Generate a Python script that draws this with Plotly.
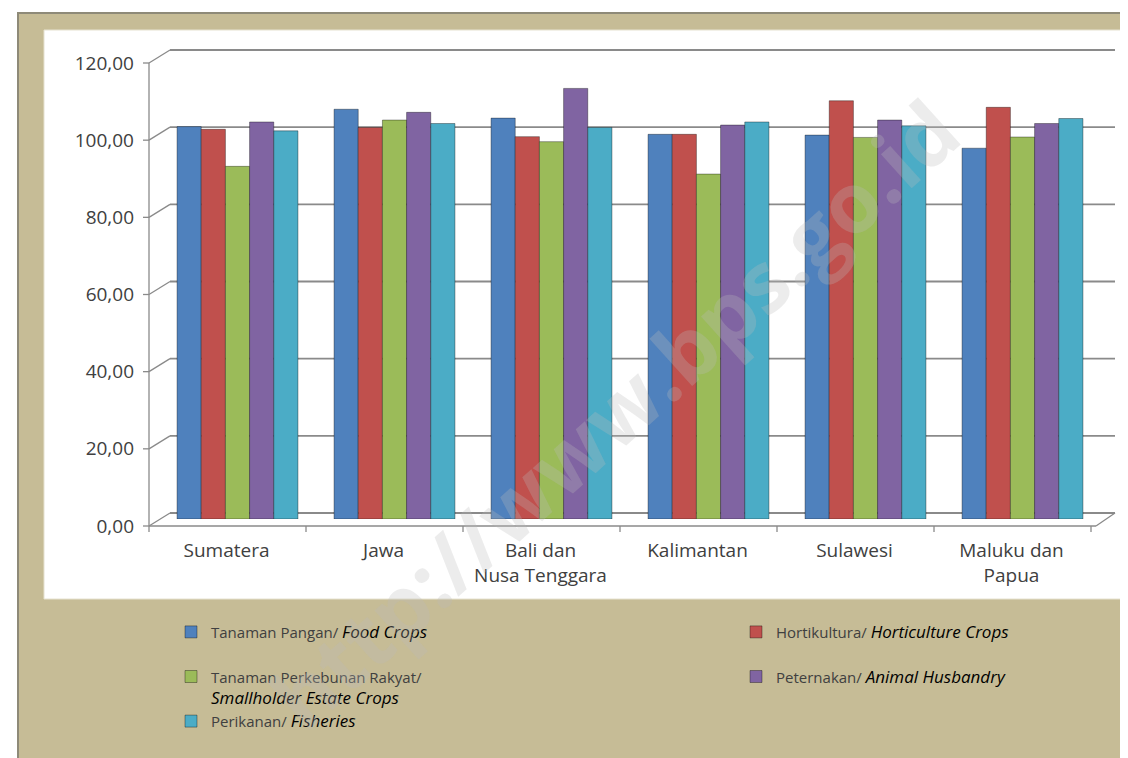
import plotly.graph_objects as go

# ---------------- data ----------------
categories = ["Sumatera", "Jawa", "Bali dan<br>Nusa Tenggara", "Kalimantan", "Sulawesi", "Maluku dan<br>Papua"]
food_crops = [101.7, 106.2, 103.9, 99.7, 99.5, 96.1]
horticulture = [101.0, 101.5, 99.1, 99.7, 108.4, 106.7]
estate_crops = [91.4, 103.4, 97.8, 89.4, 98.9, 99.0]
animal_husbandry = [102.9, 105.4, 111.6, 102.1, 103.4, 102.5]
fisheries = [100.6, 102.5, 101.5, 102.9, 101.9, 103.8]
y_ticks = [0, 20, 40, 60, 80, 100, 120]

names_id = ["Tanaman Pangan/ ", "Hortikultura/ ", "Tanaman Perkebunan Rakyat/", "Peternakan/ ", "Perikanan/ "]
names_en = ["Food Crops", "Horticulture Crops", "Smallholder Estate Crops", "Animal Husbandry", "Fisheries"]
colors = ["#4F81BD", "#C0504D", "#9BBB59", "#8064A2", "#4BACC6"]
series = [food_crops, horticulture, estate_crops, animal_husbandry, fisheries]

# ---------------- geometry helpers (decoration only) ----------------
W, H = 1128, 758
L, R, B, T = 151, 1093, 511, 48
PW, PH = R - L, B - T


def fx(px):
    return (px - L) / PW


def fy(py):
    return (B - py) / PH


def label(i):
    reg = f'<span style="color:#404040;font-size:15px">{names_id[i]}</span>'
    it = f'<span style="font-size:17px"><i>{names_en[i]}</i></span>'
    if i == 2:
        return reg + "<br>" + it
    if i in (0, 1):
        return reg + it + "<br>\u00a0"
    return reg + it


fig = go.Figure()
legend_of = ["legend", "legend2", "legend", "legend2", "legend"]
for i, vals in enumerate(series):
    fig.add_trace(go.Bar(
        x=categories, y=vals, name=label(i),
        marker=dict(color=colors[i], line=dict(color="rgba(0,0,0,0.35)", width=1)),
        legend=legend_of[i],
    ))

shapes = []
# outer tan frame
shapes.append(dict(type="rect", xref="paper", yref="paper", x0=fx(10), x1=fx(1130), y0=fy(760), y1=fy(5),
                   fillcolor="#C6BC96", line=dict(color="#8E8A78", width=2), layer="below"))
# white chart panel
shapes.append(dict(type="rect", xref="paper", yref="paper", x0=fx(36), x1=fx(1118), y0=fy(591), y1=fy(22),
                   fillcolor="#FFFFFF", line=dict(color="#E6E2D0", width=1), layer="below"))

front_dy = -7 / PH
back_dy = 6 / PH
grid_col = "#8A8A8A"
for v in y_ticks:
    yb = v / 120 + back_dy
    yf = v / 120 + front_dy
    shapes.append(dict(type="line", xref="paper", yref="paper", x0=fx(162), x1=fx(1107), y0=yb, y1=yb,
                       line=dict(color=grid_col, width=1.8), layer="below"))
    shapes.append(dict(type="line", xref="paper", yref="paper", x0=fx(141), x1=fx(162), y0=yf, y1=yb,
                       line=dict(color=grid_col, width=1.3), layer="below"))
    shapes.append(dict(type="line", xref="paper", yref="paper", x0=fx(135), x1=fx(141), y0=yf, y1=yf,
                       line=dict(color=grid_col, width=1.3), layer="below"))
# front vertical axis
shapes.append(dict(type="line", xref="paper", yref="paper", x0=fx(141), x1=fx(141), y0=front_dy, y1=1 + front_dy,
                   line=dict(color=grid_col, width=1.3), layer="below"))
# front floor edge and right slant
shapes.append(dict(type="line", xref="paper", yref="paper", x0=fx(141), x1=fx(1088), y0=front_dy, y1=front_dy,
                   line=dict(color=grid_col, width=1.3), layer="below"))
shapes.append(dict(type="line", xref="paper", yref="paper", x0=fx(1088), x1=fx(1107), y0=front_dy, y1=back_dy,
                   line=dict(color=grid_col, width=1.3), layer="below"))
# category ticks on front edge
for k in range(len(categories) + 1):
    xk = fx(141) + k / len(categories)
    shapes.append(dict(type="line", xref="paper", yref="paper", x0=xk, x1=xk, y0=front_dy, y1=front_dy - 6 / PH,
                       line=dict(color=grid_col, width=1.3), layer="below"))

fig.update_layout(
    width=W, height=H,
    margin=dict(l=L, r=W - R, t=T, b=H - B, pad=0),
    paper_bgcolor="#FFFFFF", plot_bgcolor="rgba(0,0,0,0)",
    barmode="group", bargap=0.23, bargroupgap=0,
    separators=",.",
    font=dict(family="Open Sans", color="#404040"),
    shapes=shapes,
    showlegend=True,
    legend=dict(orientation="v", x=fx(163), y=fy(607), xanchor="left", yanchor="top",
                bgcolor="rgba(0,0,0,0)", valign="top", tracegroupgap=0,
                font=dict(family="Open Sans", size=16, color="#000000")),
    legend2=dict(orientation="v", x=fx(728), y=fy(607), xanchor="left", yanchor="top",
                 bgcolor="rgba(0,0,0,0)", valign="top", tracegroupgap=0,
                 font=dict(family="Open Sans", size=16, color="#000000")),
    annotations=[dict(text="<b>http://www.bps.go.id</b>", xref="paper", yref="paper",
                      x=fx(605), y=fy(405), xanchor="center", yanchor="middle",
                      showarrow=False, textangle=-42,
                      font=dict(family="Open Sans", size=84, color="rgba(185,185,185,0.28)"))],
)
fig.update_xaxes(type="category", showgrid=False, showline=False, zeroline=False, ticks="",
                 tickfont=dict(size=19, color="#404040"), ticklabelshift=-11, ticklabelstandoff=18)
fig.update_yaxes(range=[0, 120], tickvals=y_ticks, tickformat=".2f", showgrid=False, showline=False,
                 zeroline=False, ticks="", tickfont=dict(size=19, color="#404040"),
                 ticklabelshift=7, ticklabelstandoff=24)

fig.write_html("out.html")
